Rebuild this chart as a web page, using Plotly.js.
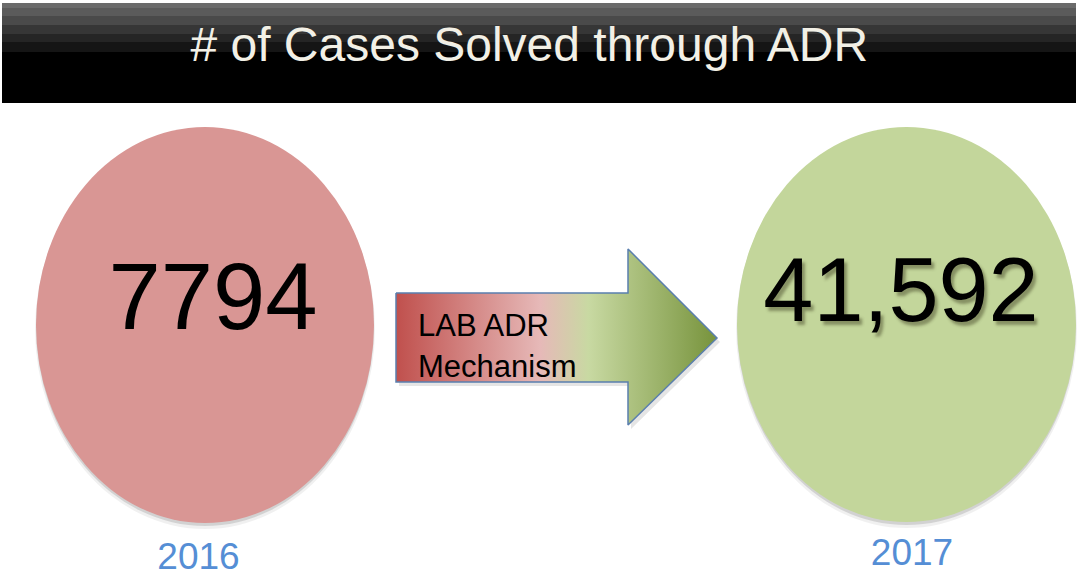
<!DOCTYPE html>
<html>
<head>
<meta charset="utf-8">
<script src="https://cdn.plot.ly/plotly-3.0.1.min.js"></script>
<style>
  html, body { margin: 0; padding: 0; background: #ffffff; }
  #chart { width: 1078px; height: 580px; }
</style>
</head>
<body>
<div id="chart"></div>
<script>
// ---- data ----
const years = ['2016', '2017'];
const casesSolved = [7794, 41592];
const valueLabels = ['7794', '41,592'];
const mechanismLabel = ['LAB ADR', 'Mechanism'];
const chartTitle = '# of Cases Solved through ADR';

// ---- layout constants (pixel space: x 0..1078, y 0..580 downward) ----
const W = 1078, H = 580;
const ellipses = [
  { x0: 36, x1: 374, y0: 127, y1: 523, fill: '#d99694', labelX: 213, labelY: 305, labelSize: 94, yearX: 198.5, yearY: 560, shadow: false },
  { x0: 737, x1: 1076, y0: 127, y1: 522, fill: '#c3d69b', labelX: 901, labelY: 298.5, labelSize: 90, yearX: 912, yearY: 556, shadow: true }
];
const arrow = { x0: 396, xNeck: 628, xTip: 717, yBodyTop: 293, yBodyBot: 382, yHeadTop: 249, yHeadBot: 425, yMid: 338 };
const titleBands = [
  [3, 8, '#6b6b6b'], [8, 16, '#5b5b5b'], [16, 25, '#4a4a4a'], [25, 34, '#363636'],
  [34, 42, '#252525'], [42, 52, '#151515'], [52, 103, '#000000']
];

const shapes = [];
// title bar bands
titleBands.forEach(b => shapes.push({
  type: 'rect', xref: 'x', yref: 'y', x0: 2, x1: 1076, y0: b[0], y1: b[1],
  fillcolor: b[2], line: { width: 0 }, layer: 'below'
}));
// ellipse shadows + ellipses
ellipses.forEach(e => {
  shapes.push({ type: 'circle', xref: 'x', yref: 'y', x0: e.x0 - 1, x1: e.x1 + 1, y0: e.y0 + 2, y1: e.y1 + 6,
    fillcolor: 'rgba(0,0,0,0.06)', line: { width: 0 }, layer: 'below' });
  shapes.push({ type: 'circle', xref: 'x', yref: 'y', x0: e.x0, x1: e.x1, y0: e.y0 + 1, y1: e.y1 + 3,
    fillcolor: 'rgba(0,0,0,0.12)', line: { width: 0 }, layer: 'below' });
  shapes.push({ type: 'circle', xref: 'x', yref: 'y', x0: e.x0, x1: e.x1, y0: e.y0, y1: e.y1,
    fillcolor: e.fill, line: { width: 0 }, layer: 'below' });
});

// arrow polygon
const ax = [arrow.x0, arrow.xNeck, arrow.xNeck, arrow.xTip, arrow.xNeck, arrow.xNeck, arrow.x0, arrow.x0];
const ay = [arrow.yBodyTop, arrow.yBodyTop, arrow.yHeadTop, arrow.yMid, arrow.yHeadBot, arrow.yBodyBot, arrow.yBodyBot, arrow.yBodyTop];

const traces = [];
// arrow shadow
traces.push({
  type: 'scatter', mode: 'lines', x: ax.map(v => v + 3), y: ay.map(v => v + 4),
  fill: 'toself', fillcolor: 'rgba(0,0,0,0.10)', line: { width: 0, color: 'rgba(0,0,0,0)' },
  hoverinfo: 'skip', showlegend: false
});
traces.push({
  type: 'scatter', mode: 'lines', x: ax, y: ay, fill: 'toself',
  fillgradient: {
    type: 'horizontal',
    colorscale: [[0, '#c0504d'], [0.45, '#e6b9b8'], [0.6, '#c8d9a2'], [1, '#77933c']]
  },
  line: { color: '#5a7fae', width: 1.5 },
  hoverinfo: 'skip', showlegend: false
});
// arrow text
traces.push({
  type: 'scatter', mode: 'text', x: [418, 418], y: [328, 369],
  text: mechanismLabel, textposition: 'middle right',
  textfont: { family: 'Liberation Sans, Arial, sans-serif', size: 31, color: '#000000' },
  hoverinfo: 'skip', showlegend: false
});
// value labels
years.forEach((yr, i) => {
  const e = ellipses[i];
  traces.push({
    type: 'scatter', mode: 'text', x: [e.labelX], y: [e.labelY],
    text: [valueLabels[i]], customdata: [casesSolved[i]], textposition: 'middle center',
    textfont: Object.assign({ family: 'Liberation Sans, Arial, sans-serif', size: e.labelSize, color: '#000000' },
      e.shadow ? { shadow: '3px 4px 3px rgba(60,60,30,0.45)' } : {}),
    hoverinfo: 'skip', showlegend: false
  });
  traces.push({
    type: 'scatter', mode: 'text', x: [e.yearX], y: [e.yearY],
    text: [yr], textposition: 'middle center',
    textfont: { family: 'Liberation Sans, Arial, sans-serif', size: 37, color: '#558ed5' },
    hoverinfo: 'skip', showlegend: false
  });
});

const layout = {
  width: W, height: H,
  margin: { l: 0, r: 0, t: 0, b: 0, pad: 0 },
  paper_bgcolor: '#ffffff', plot_bgcolor: '#ffffff',
  title: {
    text: chartTitle, x: 0.491, xanchor: 'center', xref: 'paper',
    y: 1 - 44 / H, yref: 'container', yanchor: 'middle',
    font: { family: 'Liberation Sans, Arial, sans-serif', size: 48, color: '#f2f0e6' }
  },
  xaxis: { range: [0, W], visible: false, fixedrange: true },
  yaxis: { range: [H, 0], visible: false, fixedrange: true },
  shapes: shapes,
  showlegend: false
};

Plotly.newPlot('chart', traces, layout, { staticPlot: true, displayModeBar: false });
</script>
</body>
</html>
